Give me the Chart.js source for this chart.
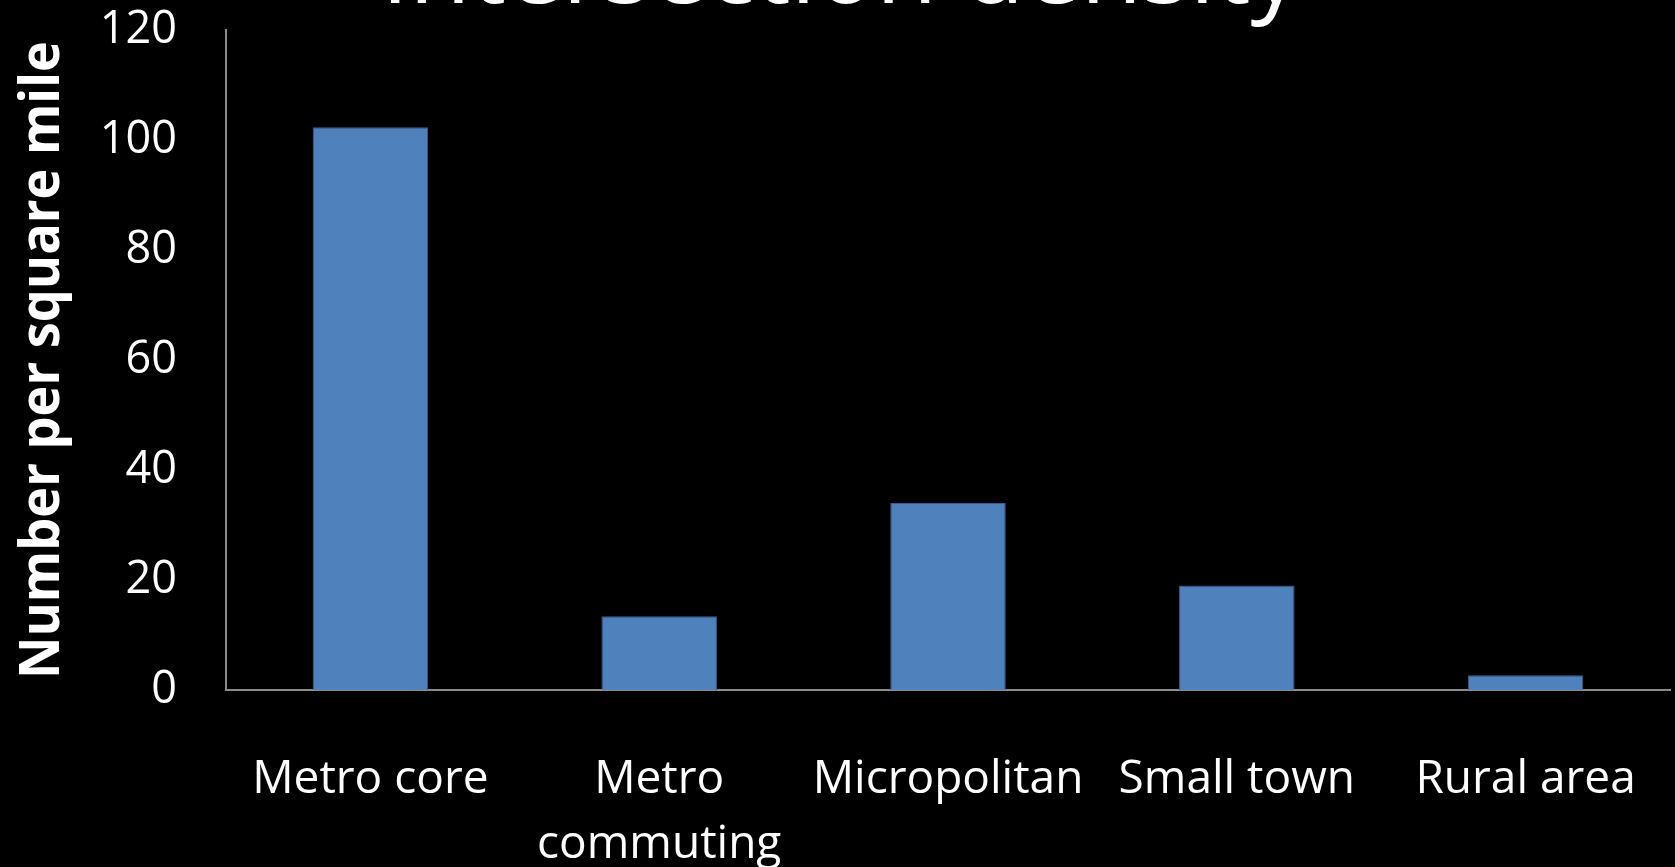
<!DOCTYPE html>
<html>
<head>
<meta charset="utf-8">
<script src="https://cdn.jsdelivr.net/npm/chart.js@4.4.1/dist/chart.umd.min.js"></script>
<style>
  html, body { margin: 0; padding: 0; background: #000; }
  #wrap { position: absolute; left: 0; top: 0; width: 1675px; height: 867px; }
</style>
</head>
<body>
<div id="wrap"><canvas id="chart"></canvas></div>
<script>
// Intersection density by settlement type
const categories = [['Metro core'], ['Metro', 'commuting'], ['Micropolitan'], ['Small town'], ['Rural area']];
const densityValues = [102.3, 13.4, 34.0, 19.0, 2.7];
const yTicks = [0, 20, 40, 60, 80, 100, 120];
const chartTitle = 'Intersection density';
const yAxisTitle = 'Number per square mile';

// Large slide title; its upper part runs off the top edge of the canvas
const slideTitle = {
  id: 'slideTitle',
  afterDraw(chart) {
    const ctx = chart.ctx;
    ctx.save();
    ctx.fillStyle = '#ffffff';
    ctx.font = '100px "Open Sans"';
    ctx.textAlign = 'center';
    ctx.textBaseline = 'alphabetic';
    ctx.fillText(chartTitle, 841, 3);
    ctx.restore();
  }
};

// Rotated, condensed bold title for the value axis
const valueAxisTitle = {
  id: 'valueAxisTitle',
  afterDraw(chart) {
    const ctx = chart.ctx;
    const area = chart.chartArea;
    ctx.save();
    ctx.fillStyle = '#ffffff';
    ctx.font = 'bold 55px "Open Sans"';
    ctx.textAlign = 'center';
    ctx.textBaseline = 'alphabetic';
    const w = ctx.measureText(yAxisTitle).width;
    const span = 638;
    ctx.translate(59, (area.top + area.bottom) / 2);
    ctx.rotate(-Math.PI / 2);
    ctx.scale(span / w, 1);
    ctx.fillText(yAxisTitle, 0, 0);
    ctx.restore();
  }
};

new Chart(document.getElementById('chart'), {
  type: 'bar',
  data: {
    labels: categories,
    datasets: [{
      data: densityValues,
      backgroundColor: '#4F81BD',
      borderColor: '#385D8A',
      borderWidth: 1,
      barPercentage: 0.4,
      categoryPercentage: 1.0
    }]
  },
  options: {
    responsive: true,
    maintainAspectRatio: false,
    animation: false,
    layout: { padding: { top: 30, right: 5, bottom: 0, left: 0 } },
    plugins: {
      legend: { display: false },
      title: { display: false },
      tooltip: { enabled: false }
    },
    scales: {
      x: {
        grid: { display: false, drawTicks: false },
        border: { display: true, color: '#8a8a8a', width: 2 },
        ticks: {
          color: '#ffffff',
          font: { family: '"Open Sans"', size: 46, lineHeight: 1.4 },
          padding: 58,
          maxRotation: 0,
          autoSkip: false
        },
        afterFit(scale) {
          scale.height = 177;
          scale.paddingLeft = 0;
          scale.paddingRight = 0;
        }
      },
      y: {
        min: 0,
        max: 120,
        afterBuildTicks(scale) { scale.ticks = yTicks.map(v => ({ value: v })); },
        grid: { display: false, drawTicks: false },
        border: { display: true, color: '#8a8a8a', width: 2 },
        ticks: {
          color: '#ffffff',
          font: { family: '"Open Sans"', size: 45 },
          padding: 49
        },
        afterFit(scale) {
          scale.width = 226;
          scale.paddingTop = 0;
          scale.paddingBottom = 0;
        }
      }
    }
  },
  plugins: [slideTitle, valueAxisTitle]
});
</script>
</body>
</html>
